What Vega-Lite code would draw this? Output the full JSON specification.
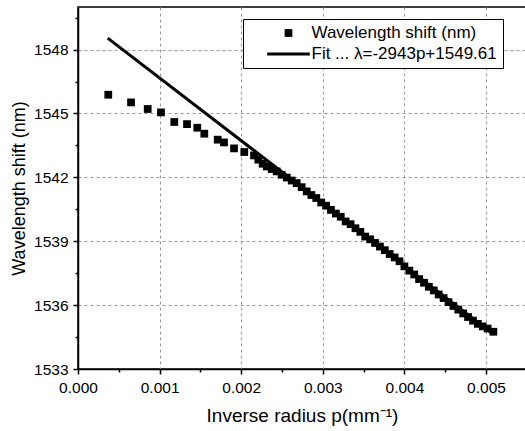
{
  "$schema": "https://vega.github.io/schema/vega-lite/v6.json",
  "autosize": "none",
  "width": 448,
  "height": 362,
  "padding": {"left": 78, "top": 7, "right": 0, "bottom": 62},
  "config": {
    "font": "Liberation Sans",
    "view": {"stroke": "black", "strokeWidth": 1.5},
    "axis": {
      "domainColor": "black", "domainWidth": 1.5,
      "tickColor": "black", "tickWidth": 1.5,
      "labelColor": "black", "titleColor": "black",
      "labelFontSize": 15.5, "titleFontSize": 18, "titleFontWeight": "normal",
      "gridColor": "#999999", "gridDash": [3, 3], "gridWidth": 1
    }
  },
  "datasets": {
    "pts": [
      {"p": 0.000371, "w": 1545.88}, {"p": 0.000650, "w": 1545.52}, {"p": 0.000854, "w": 1545.21},
      {"p": 0.001017, "w": 1545.05}, {"p": 0.001180, "w": 1544.60}, {"p": 0.001336, "w": 1544.50},
      {"p": 0.001462, "w": 1544.33}, {"p": 0.001548, "w": 1544.05}, {"p": 0.001712, "w": 1543.77},
      {"p": 0.001789, "w": 1543.64}, {"p": 0.001912, "w": 1543.36}, {"p": 0.002038, "w": 1543.19},
      {"p": 0.002157, "w": 1543.03}, {"p": 0.002210, "w": 1542.83}, {"p": 0.002263, "w": 1542.64},
      {"p": 0.002313, "w": 1542.51}, {"p": 0.002374, "w": 1542.39}, {"p": 0.002435, "w": 1542.28},
      {"p": 0.002496, "w": 1542.12}, {"p": 0.002558, "w": 1541.99}, {"p": 0.002619, "w": 1541.85},
      {"p": 0.002680, "w": 1541.73}, {"p": 0.002741, "w": 1541.54}, {"p": 0.002803, "w": 1541.34},
      {"p": 0.00286, "w": 1541.17}, {"p": 0.00292, "w": 1541.03}, {"p": 0.00298, "w": 1540.82},
      {"p": 0.00304, "w": 1540.67}, {"p": 0.00310, "w": 1540.47}, {"p": 0.00316, "w": 1540.30},
      {"p": 0.00322, "w": 1540.15}, {"p": 0.00328, "w": 1539.93}, {"p": 0.00334, "w": 1539.80},
      {"p": 0.00340, "w": 1539.61}, {"p": 0.00346, "w": 1539.44}, {"p": 0.00352, "w": 1539.22},
      {"p": 0.00358, "w": 1539.09}, {"p": 0.00364, "w": 1538.92}, {"p": 0.00370, "w": 1538.75},
      {"p": 0.00376, "w": 1538.58}, {"p": 0.00382, "w": 1538.40}, {"p": 0.00388, "w": 1538.24},
      {"p": 0.00394, "w": 1538.06}, {"p": 0.00400, "w": 1537.82}, {"p": 0.00406, "w": 1537.62},
      {"p": 0.00412, "w": 1537.44}, {"p": 0.00418, "w": 1537.22}, {"p": 0.00424, "w": 1537.05},
      {"p": 0.00430, "w": 1536.86}, {"p": 0.00436, "w": 1536.69}, {"p": 0.00442, "w": 1536.50},
      {"p": 0.00448, "w": 1536.33}, {"p": 0.00454, "w": 1536.14}, {"p": 0.00460, "w": 1535.96},
      {"p": 0.00466, "w": 1535.79}, {"p": 0.00472, "w": 1535.61}, {"p": 0.00478, "w": 1535.44},
      {"p": 0.00484, "w": 1535.27}, {"p": 0.00490, "w": 1535.12}, {"p": 0.00496, "w": 1535.00},
      {"p": 0.00502, "w": 1534.90}, {"p": 0.00509, "w": 1534.75}
    ],
    "fit": [
      {"p": 0.000364, "w": 1548.54},
      {"p": 0.00509, "w": 1534.63}
    ]
  },
  "resolve": {"axis": {"x": "independent", "y": "independent"}},
  "layer": [
    {
      "data": {"name": "fit"},
      "mark": {"type": "line", "color": "black", "strokeWidth": 3, "clip": true},
      "encoding": {
        "x": {
          "field": "p", "type": "quantitative",
          "scale": {"domain": [0, 0.00549], "nice": false, "zero": false},
          "axis": {
            "orient": "bottom",
            "title": "Inverse radius p(mm⁻¹)",
            "titleFontSize": 19,
            "values": [0, 0.001, 0.002, 0.003, 0.004, 0.005],
            "format": ".3f",
            "labelFlush": false, "labelOverlap": false,
            "labelPadding": 6, "titlePadding": 11,
            "tickSize": 5, "grid": true
          }
        },
        "y": {
          "field": "w", "type": "quantitative",
          "scale": {"domain": [1533, 1550], "nice": false, "zero": false},
          "axis": {
            "orient": "left",
            "title": "Wavelength shift (nm)",
            "values": [1533, 1536, 1539, 1542, 1545, 1548],
            "format": "d",
            "labelOverlap": false,
            "labelPadding": 5, "titlePadding": 5,
            "tickSize": 5, "grid": true
          }
        }
      }
    },
    {
      "data": {"name": "pts"},
      "transform": [{"calculate": "'Wavelength shift (nm)'", "as": "series"}],
      "mark": {"type": "point", "filled": true, "color": "black", "opacity": 1, "size": 60, "strokeWidth": 0},
      "encoding": {
        "x": {
          "field": "p", "type": "quantitative",
          "axis": {
            "orient": "bottom", "title": null, "labels": false, "grid": false, "domain": false,
            "values": [0.0005, 0.0015, 0.0025, 0.0035, 0.0045],
            "tickSize": 3
          }
        },
        "y": {
          "field": "w", "type": "quantitative",
          "axis": {
            "orient": "left", "title": null, "labels": false, "grid": false, "domain": false,
            "values": [1534.5, 1537.5, 1540.5, 1543.5, 1546.5, 1549.5],
            "tickSize": 3
          }
        },
        "shape": {
          "field": "series", "type": "nominal",
          "scale": {
            "domain": ["Wavelength shift (nm)", "Fit ... λ=-2943p+1549.61"],
            "range": ["M-1,-1H1V1H-1Z", "M-5.5,-0.4H5.5V0.4H-5.5Z"]
          },
          "legend": {
            "title": null,
            "orient": "none", "legendX": 165, "legendY": 12,
            "fillColor": "white", "strokeColor": "black",
            "padding": 5.5, "cornerRadius": 0,
            "rowPadding": 3,
            "symbolSize": 60, "symbolStrokeWidth": 0,
            "symbolFillColor": "black", "symbolStrokeColor": "black",
            "symbolOffset": 31.5, "labelOffset": 14.5,
            "labelExpr": "datum.label + '\u00a0\u00a0\u00a0'",
            "labelFontSize": 17, "labelColor": "black", "labelLimit": 400
          }
        }
      }
    }
  ]
}
